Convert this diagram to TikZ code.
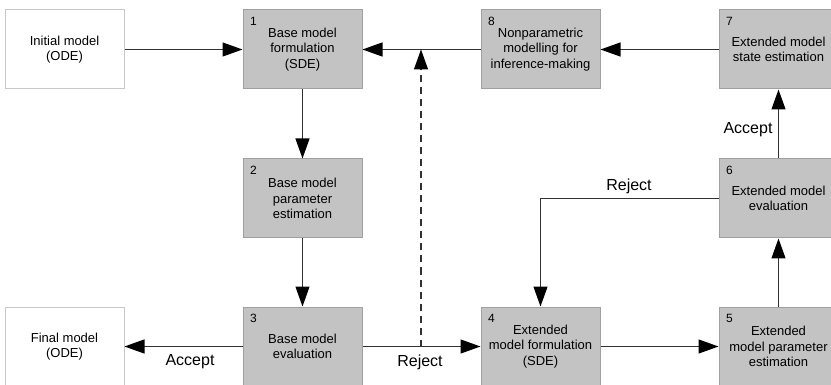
\documentclass[tikz,border=0pt]{standalone}
\usepackage{fontspec}
\setmainfont{Liberation Sans}
\usetikzlibrary{arrows.meta}
\definecolor{boxfill}{RGB}{195,195,195}
\definecolor{boxline}{RGB}{160,160,160}
\definecolor{wline}{RGB}{200,200,200}
\definecolor{conn}{RGB}{50,50,50}
\begin{document}
\begin{tikzpicture}[x=1pt,y=-1pt,
  gbox/.style={draw=boxline,fill=boxfill,line width=1pt,minimum width=119pt,minimum height=79pt,inner sep=0pt,align=center,font=\fontsize{13}{15.5}\selectfont},
  wbox/.style={gbox,draw=wline,fill=white},
  num/.style={font=\fontsize{12}{12}\selectfont,inner sep=0pt,anchor=center},
  conn/.style={draw=conn,line width=1.2pt,-{Triangle[length=20pt,width=14pt,color=black]}},
  lab/.style={font=\fontsize{16}{16}\selectfont,inner sep=0pt}]
\useasboundingbox (0,0) rectangle (831,385);
\clip (0,0) rectangle (831,385);
\fill[white] (0,0) rectangle (831,385);
\node[wbox] (init) at (64.5,49.5) {Initial model\\(ODE)};
\node[wbox] (final) at (64.5,346.5) {Final model\\(ODE)};
\node[gbox] (b1) at (302.5,49.5) {Base model\\formulation\\(SDE)};
\node[gbox] (b2) at (302.5,198.5) {Base model\\parameter\\estimation};
\node[gbox] (b3) at (302.5,346.5) {Base model\\evaluation};
\node[gbox] (b4) at (540.5,346.5) {Extended\\model formulation\\(SDE)};
\node[gbox] (b5) at (778.5,346.5) {Extended\\model parameter\\estimation};
\node[gbox] (b6) at (778.5,198.5) {Extended model\\evaluation};
\node[gbox] (b7) at (778.5,49.5) {Extended model\\state estimation};
\node[gbox] (b8) at (540.5,49.5) {Nonparametric\\modelling for\\inference-making};
\foreach \n/\t in {b1/1,b2/2,b3/3,b4/4,b5/5,b6/6,b7/7,b8/8}
  \node[num] (n\n) at ([shift={(11pt,-12pt)}]\n.north west) {\t};
\draw[conn] (init) -- (b1);
\draw[conn] (b8) -- (b1);
\draw[conn] (b7) -- (b8);
\draw[conn] (b1) -- (b2);
\draw[conn] (b2) -- (b3);
\draw[conn] (b3) -- (final);
\draw[conn] (b3) -- (b4);
\draw[conn] (b4) -- (b5);
\draw[conn] (b5) -- (b6);
\draw[conn] (b6) -- (b7);
\draw[conn] (b6.west) -| (b4.north);
\coordinate (dstart) at (421,346.5);
\coordinate (dend) at (421,49.5);
\draw[conn,dash pattern=on 7pt off 5pt] (dstart) -- (dend);
\node[lab] (l1) at (190,362) {Accept};
\node[lab] (l2) at (420,362) {Reject};
\node[lab] (l3) at (629,186) {Reject};
\node[lab] (l4) at (748,130) {Accept};
\end{tikzpicture}
\end{document}
